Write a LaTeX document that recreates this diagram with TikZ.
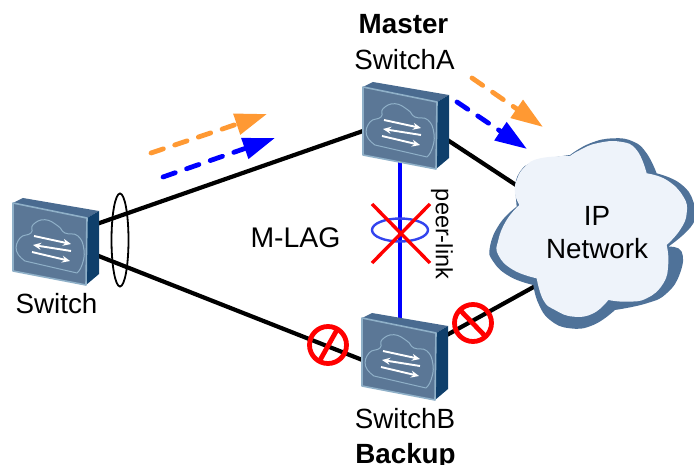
\documentclass[tikz,border=0pt]{standalone}
\usepackage{fontspec}
\setmainfont{Liberation Sans}
\usetikzlibrary{calc,arrows.meta,backgrounds}
\definecolor{faceC}{HTML}{5B7796}
\definecolor{topC}{HTML}{4A6B90}
\definecolor{sideC}{HTML}{0F3F6B}
\definecolor{rimC}{HTML}{8FB0C8}
\definecolor{cloudD}{HTML}{4F7299}
\definecolor{cloudL}{HTML}{EEF3FA}
\definecolor{orangeA}{HTML}{FF9933}
\definecolor{ringB}{HTML}{3344EE}
\tikzset{
 x=1pt,y=-1pt,
 lbl/.style={font=\fontsize{27.8}{33}\selectfont,text=black,inner sep=0pt,anchor=base},
 devbox/.style={minimum width=86pt,minimum height=87pt,inner sep=0pt},
 wire/.style={line width=4.2pt,black},
 flow/.style={line width=4.8pt,dash pattern=on 13pt off 12pt,line cap=round,-{Triangle[length=32pt,width=21pt]}},
 forbid/.style={draw=red,line width=4.8pt,fill=none},
 switchicon/.pic={
  \fill[topC] (0,0)--(10,-5)--(86,8)--(74,15)--cycle;
  \fill[sideC] (74,15)--(86,8)--(86,71)--(73,82)--cycle;
  \fill[faceC,draw=rimC,line width=1.6pt,line join=round] (0,0)--(74,15)--(73,82)--(0,68)--cycle;
  \draw[rimC,line width=1pt] plot[smooth,tension=0.8] coordinates{(12,58)(3.5,48)(7,35)(18,30)(20,21.7)(32,16.7)(45,23)(52,30)(65,33)(71,47)(69,62)(64,70)};
  \draw[rimC,line width=1pt] (12,58)--(64,70);
  \draw[white,line width=1.9pt,-{Stealth[length=8pt,width=7pt]}] (21,33)--(58,41);
  \draw[white,line width=1.9pt,-{Stealth[length=8pt,width=7pt]}] (58,48)--(20,42);
  \draw[white,line width=1.9pt,-{Stealth[length=8pt,width=7pt]}] (19,49)--(57,58);
 }
}
\begin{document}
\begin{tikzpicture}
\useasboundingbox (0,0) rectangle (694,465);
% cloud
\begin{scope}[shift={(480,130)},x=0.3333pt,y=-0.3333pt]
\fill[cloudD] plot[smooth,tension=0.8] coordinates{(105,170)(120,125)(165,95)(270,75)}
 -- plot[smooth,tension=0.8] coordinates{(270,75)(330,40)(400,25)(460,35)(500,70)(530,130)}
 -- plot[smooth,tension=0.8] coordinates{(530,130)(600,160)(640,215)(640,280)(565,350)}
 -- plot[smooth,tension=0.8] coordinates{(565,350)(605,365)(600,430)(560,490)(500,520)(405,540)}
 -- plot[smooth,tension=0.8] coordinates{(405,540)(340,585)(270,595)(210,570)(175,520)(160,465)}
 -- plot[smooth,tension=0.8] coordinates{(160,465)(90,440)(40,395)(30,350)(60,280)(110,230)} -- cycle;
\fill[cloudL] plot[smooth,tension=0.8] coordinates{(118,225)(105,190)(110,150)(135,110)(180,85)(270,78)}
 -- plot[smooth,tension=0.8] coordinates{(270,78)(300,60)(350,40)(420,35)(470,60)(500,130)}
 -- plot[smooth,tension=0.8] coordinates{(500,130)(560,150)(610,200)(620,250)(600,300)(560,345)}
 -- plot[smooth,tension=0.8] coordinates{(560,345)(565,400)(550,460)(500,505)(440,515)(385,510)}
 -- plot[smooth,tension=0.8] coordinates{(385,510)(340,550)(280,560)(225,540)(190,510)(170,445)}
 -- plot[smooth,tension=0.8] coordinates{(170,445)(100,420)(55,375)(55,330)(80,270)(118,225)} -- cycle;
\end{scope}
\node[lbl,anchor=center,align=center] (cloud) at (597,233) {IP\\Network};
% devices
\node[devbox] (swL) at (56,242) {};
\node[devbox] (swA) at (406,126) {};
\node[devbox] (swB) at (405,357) {};
\pic at (13,203) {switchicon};
\pic at (363,87) {switchicon};
\pic at (362,318) {switchicon};
% connectors
\begin{scope}[on background layer]
\draw[wire] ($(swL)+(35,-16)$) -- ($(swA)+(-35,2.2)$);
\draw[wire] ($(swL)+(35,11)$) -- ($(swB)+(-35,6)$);
\draw[wire] ($(swA)+(40,13)$) -- ($(cloud)+(-78,-46)$);
\draw[wire] ($(swB)+(40,-21)$) -- ($(cloud)+(-58,51)$);
\draw[line width=4pt,blue] ($(swA)+(-6,0)$) -- ($(swB)+(-5,0)$);
\end{scope}
% labels
\node[lbl,font=\fontsize{27.8}{33}\selectfont\bfseries] (master) at (403.5,34) {Master};
\node[lbl] (nameA) at (404.5,70) {SwitchA};
\node[lbl] (nameL) at (56.5,313) {Switch};
\node[lbl] (nameB) at (405,428) {SwitchB};
\node[lbl,font=\fontsize{27.8}{33}\selectfont\bfseries] (backup) at (405.5,463) {Backup};
\node[lbl,anchor=center,font=\fontsize{28.4}{33}\selectfont] (mlag) at (295.5,238) {M-LAG};
\node[lbl,anchor=center,rotate=-90,font=\fontsize{23.5}{28}\selectfont] (peer) at (442,234) {peer-link};
% link bundle
\draw[black,line width=1.8pt] (120,240) ellipse [x radius=8.5,y radius=46.5];
\draw[ringB,line width=2.4pt] (400,230) ellipse [x radius=28,y radius=11.5];
\draw[red,line width=3.4pt] (372,204) -- (430,263);
\draw[red,line width=3.4pt] (430,204) -- (372,263);
% forbid
\draw[forbid] (328,345) circle [radius=18.5];
\draw[forbid] (338,328) -- (319,362);
\draw[forbid] (473,323) circle [radius=18.5];
\draw[forbid] (460,310) -- (486,337);
% flows
\coordinate (o1s) at (151,153); \coordinate (o1e) at (267,114);
\coordinate (b1s) at (163,177); \coordinate (b1e) at (275,138);
\coordinate (o2s) at (472,78); \coordinate (o2e) at (543,127);
\coordinate (b2s) at (457,102); \coordinate (b2e) at (527,149);
\draw[flow,orangeA] (o1s) -- (o1e);
\draw[flow,blue] (b1s) -- (b1e);
\draw[flow,orangeA] (o2s) -- (o2e);
\draw[flow,blue] (b2s) -- (b2e);
\end{tikzpicture}
\end{document}
